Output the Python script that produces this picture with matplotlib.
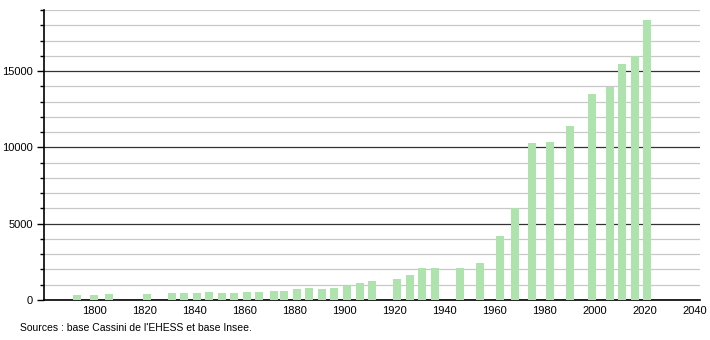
import matplotlib
matplotlib.use('Agg')
import matplotlib.pyplot as plt
from matplotlib.ticker import MultipleLocator

plt.rcParams['font.family'] = ['Liberation Sans', 'DejaVu Sans']

# recensements
years = [1793, 1800, 1806, 1821, 1831, 1836, 1841, 1846, 1851, 1856,
         1861, 1866, 1872, 1876, 1881, 1886, 1891, 1896, 1901, 1906,
         1911, 1921, 1926, 1931, 1936, 1946, 1954, 1962, 1968, 1975,
         1982, 1990, 1999, 2006, 2011, 2016, 2021]
population = [330, 330, 395, 395, 460, 460, 460, 525, 460, 460,
              525, 525, 570, 570, 700, 790, 700, 790, 940, 1100,
              1230, 1360, 1620, 2130, 2130, 2080, 2410, 4210, 6030, 10310,
              10350, 11380, 13470, 13970, 15460, 16010, 18340]
source_text = "Sources : base Cassini de l'EHESS et base Insee."

fig = plt.figure(figsize=(7.1, 3.4), dpi=100)
ax = fig.add_axes([0.062, 0.1176, 0.924, 0.853])

ax.bar(years, population, width=3.2, color='#aee3ae', zorder=3)

# grille
ax.yaxis.set_major_locator(MultipleLocator(5000))
ax.yaxis.set_minor_locator(MultipleLocator(1000))
ax.grid(axis='y', which='minor', color='#c8c8c8', linewidth=0.9, zorder=1)
ax.grid(axis='y', which='major', color='#333333', linewidth=0.9, zorder=2)

ax.set_xlim(1780, 2042)
ax.set_ylim(0, 19000)
ax.set_xticks(range(1800, 2041, 20))

for side in ('top', 'right'):
    ax.spines[side].set_visible(False)
ax.spines['left'].set_linewidth(1.2)
ax.spines['bottom'].set_linewidth(1.2)

ax.tick_params(axis='y', which='major', length=5, width=1, labelsize=8, pad=3)
ax.tick_params(axis='y', which='minor', length=3, width=1)
ax.tick_params(axis='x', length=0, labelsize=8, pad=4)

fig.text(0.028, 0.035, source_text, fontsize=7.5, ha='left', va='center')

fig.savefig('out.png', dpi=100)
